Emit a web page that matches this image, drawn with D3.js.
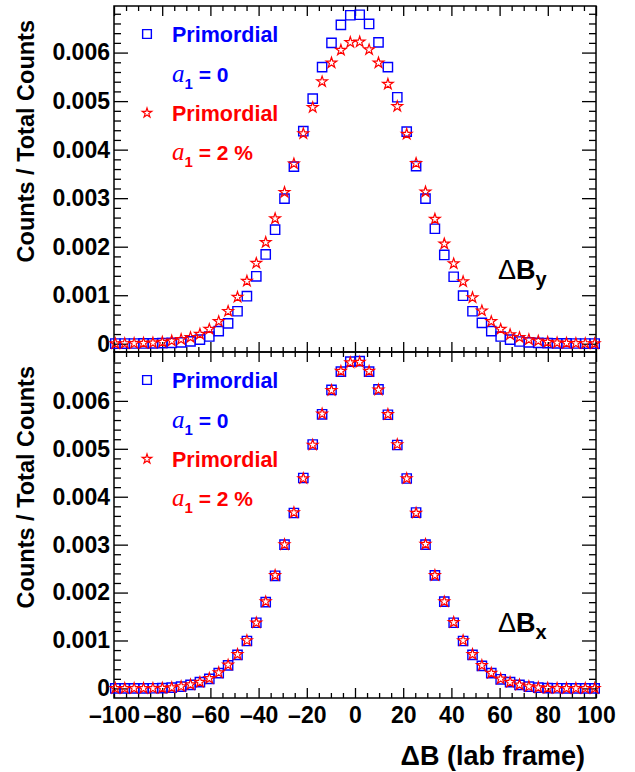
<!DOCTYPE html>
<html>
<head>
<meta charset="utf-8">
<script src="https://cdn.jsdelivr.net/npm/d3@7"></script>
<style>
  body { margin: 0; background: #fff; }
  svg { display: block; }
</style>
</head>
<body>
<svg id="chart" width="635" height="772"></svg>
<script>
// Bin centres of the ΔB histograms (52 bins)
const binCenters = [
  -99.45, -95.55, -91.65, -87.75, -83.85, -79.95, -76.05, -72.15, -68.25, -64.35, -60.45, -56.55, -52.65,
  -48.75, -44.85, -40.95, -37.05, -33.15, -29.25, -25.35, -21.45, -17.55, -13.65, -9.75, -5.85, -1.95,
  1.95, 5.85, 9.75, 13.65, 17.55, 21.45, 25.35, 29.25, 33.15, 37.05, 40.95, 44.85, 48.75,
  52.65, 56.55, 60.45, 64.35, 68.25, 72.15, 76.05, 79.95, 83.85, 87.75, 91.65, 95.55, 99.45
];

// ΔB_y, primordial, a1 = 0
const dBy_a0 = [
  0.004e-3, 0.004e-3, 0.005e-3, 0.006e-3, 0.008e-3, 0.012e-3, 0.018e-3, 0.028e-3, 0.048e-3, 0.085e-3, 0.15e-3, 0.26e-3, 0.42e-3,
  0.67e-3, 0.98e-3, 1.39e-3, 1.84e-3, 2.35e-3, 2.99e-3, 3.65e-3, 4.38e-3, 5.05e-3, 5.70e-3, 6.20e-3, 6.57e-3, 6.77e-3,
  6.78e-3, 6.59e-3, 6.21e-3, 5.70e-3, 5.08e-3, 4.37e-3, 3.66e-3, 2.99e-3, 2.37e-3, 1.83e-3, 1.38e-3, 0.99e-3, 0.67e-3,
  0.43e-3, 0.26e-3, 0.15e-3, 0.085e-3, 0.046e-3, 0.028e-3, 0.018e-3, 0.012e-3, 0.008e-3, 0.006e-3, 0.005e-3, 0.004e-3, 0.004e-3
];
// ΔB_y, primordial, a1 = 2 %
const dBy_a2 = [
  0.004e-3, 0.006e-3, 0.008e-3, 0.014e-3, 0.020e-3, 0.034e-3, 0.060e-3, 0.090e-3, 0.13e-3, 0.20e-3, 0.30e-3, 0.46e-3, 0.67e-3,
  0.96e-3, 1.29e-3, 1.66e-3, 2.09e-3, 2.58e-3, 3.12e-3, 3.71e-3, 4.33e-3, 4.87e-3, 5.40e-3, 5.79e-3, 6.05e-3, 6.21e-3,
  6.22e-3, 6.06e-3, 5.79e-3, 5.35e-3, 4.89e-3, 4.32e-3, 3.72e-3, 3.13e-3, 2.57e-3, 2.06e-3, 1.65e-3, 1.28e-3, 0.95e-3,
  0.68e-3, 0.46e-3, 0.30e-3, 0.19e-3, 0.13e-3, 0.085e-3, 0.058e-3, 0.035e-3, 0.020e-3, 0.014e-3, 0.008e-3, 0.006e-3, 0.004e-3
];
// ΔB_x, primordial, a1 = 0
const dBx_a0 = [
  0.001e-3, 0.001e-3, 0.001e-3, 0.002e-3, 0.003e-3, 0.006e-3, 0.017e-3, 0.038e-3, 0.075e-3, 0.13e-3, 0.20e-3, 0.32e-3, 0.48e-3,
  0.70e-3, 0.99e-3, 1.37e-3, 1.80e-3, 2.35e-3, 3.00e-3, 3.66e-3, 4.39e-3, 5.09e-3, 5.72e-3, 6.23e-3, 6.61e-3, 6.82e-3,
  6.83e-3, 6.61e-3, 6.24e-3, 5.71e-3, 5.08e-3, 4.38e-3, 3.67e-3, 3.00e-3, 2.36e-3, 1.81e-3, 1.37e-3, 0.99e-3, 0.70e-3,
  0.47e-3, 0.32e-3, 0.19e-3, 0.13e-3, 0.073e-3, 0.038e-3, 0.017e-3, 0.006e-3, 0.003e-3, 0.002e-3, 0.001e-3, 0.001e-3, 0.001e-3
];
// ΔB_x, primordial, a1 = 2 %
const dBx_a2 = [
  0.001e-3, 0.001e-3, 0.002e-3, 0.002e-3, 0.003e-3, 0.007e-3, 0.018e-3, 0.040e-3, 0.078e-3, 0.13e-3, 0.21e-3, 0.33e-3, 0.49e-3,
  0.71e-3, 1.00e-3, 1.37e-3, 1.81e-3, 2.36e-3, 3.00e-3, 3.67e-3, 4.38e-3, 5.08e-3, 5.73e-3, 6.22e-3, 6.62e-3, 6.80e-3,
  6.81e-3, 6.62e-3, 6.23e-3, 5.72e-3, 5.09e-3, 4.38e-3, 3.66e-3, 3.01e-3, 2.36e-3, 1.81e-3, 1.38e-3, 1.00e-3, 0.71e-3,
  0.48e-3, 0.32e-3, 0.20e-3, 0.13e-3, 0.075e-3, 0.040e-3, 0.018e-3, 0.007e-3, 0.003e-3, 0.002e-3, 0.001e-3, 0.001e-3, 0.001e-3
];

// Axis ticks and labels
const xMajorTicks = [-100, -80, -60, -40, -20, 0, 20, 40, 60, 80, 100];
const xTickLabels = ["\u2013100", "\u201380", "\u201360", "\u201340", "\u201320", "0", "20", "40", "60", "80", "100"];
const yMajorTicks = [0, 0.001, 0.002, 0.003, 0.004, 0.005, 0.006];
const yTickLabels = ["0", "0.001", "0.002", "0.003", "0.004", "0.005", "0.006"];
const yTitle = "Counts / Total Counts";
const xTitle = "\u0394B (lab frame)";
const legendName = "Primordial";

const FONT = "'Liberation Sans', Arial, Helvetica, sans-serif";
const SERIF = "'Liberation Serif', 'Times New Roman', serif";
const BLUE = "#0000ff";
const RED = "#ff0000";

const svg = d3.select("#chart");

const frameL = 114, frameR = 596;
const x = d3.scaleLinear().domain([-100, 100]).range([frameL, frameR]);

const xMinorTicks = d3.range(-100, 100.1, 5).filter(v => v % 20 !== 0);

const panels = [
  { top: 6, bottom: 352, yDomain: [-0.00017, 0.00696], a0: dBy_a0, a2: dBy_a2, comp: "y", labelDy: 273, showX: false },
  { top: 352, bottom: 698, yDomain: [-0.0002, 0.00702], a0: dBx_a0, a2: dBx_a2, comp: "x", labelDy: 280, showX: true }
];

const starSize = 5.6 * 5.6 / 0.8908130915292852;
const squareSym = d3.symbol(d3.symbolSquare, 86);
const starSym = d3.symbol(d3.symbolStar, starSize);

function styleAxis(g, labelled) {
  g.select(".domain").remove();
  g.selectAll(".tick line").attr("stroke", "#000").attr("stroke-width", 1.3);
  g.attr("font-family", FONT).attr("font-size", 23).attr("font-weight", "bold");
  if (!labelled) g.selectAll(".tick text").remove();
  g.selectAll(".tick text").attr("fill", "#000");
}

function a1Label(parent, yPos, colour, rest) {
  const t = parent.append("text").attr("x", 172).attr("y", yPos).attr("font-size", 21).attr("fill", colour);
  t.append("tspan").attr("font-family", SERIF)
    .attr("font-style", "italic").attr("font-weight", "normal").attr("font-size", 25).text("a");
  t.append("tspan").attr("font-size", 15).attr("dy", 7).text("1");
  t.append("tspan").attr("dy", -7).text(rest);
}

panels.forEach(p => {
  const y = d3.scaleLinear().domain(p.yDomain).range([p.bottom, p.top]);
  const yMinor = d3.range(0, p.yDomain[1], 0.0002).map(v => +v.toFixed(4)).filter(v => Math.round(v * 10000) % 10 !== 0);
  const g = svg.append("g");

  // y axis: left (labelled) and right (mirror)
  g.append("g").attr("transform", `translate(${frameL},0)`)
    .call(d3.axisLeft(y).tickValues(yMajorTicks).tickSize(-14).tickPadding(4)
      .tickFormat((d, i) => yTickLabels[i]))
    .call(gg => styleAxis(gg, true));
  g.append("g").attr("transform", `translate(${frameL},0)`)
    .call(d3.axisLeft(y).tickValues(yMinor).tickSize(-7).tickFormat(""))
    .call(gg => styleAxis(gg, false));
  g.append("g").attr("transform", `translate(${frameR},0)`)
    .call(d3.axisRight(y).tickValues(yMajorTicks).tickSize(-14).tickFormat(""))
    .call(gg => styleAxis(gg, false));
  g.append("g").attr("transform", `translate(${frameR},0)`)
    .call(d3.axisRight(y).tickValues(yMinor).tickSize(-7).tickFormat(""))
    .call(gg => styleAxis(gg, false));

  // x axis: bottom and top
  g.append("g").attr("transform", `translate(0,${p.bottom})`)
    .call(d3.axisBottom(x).tickValues(xMajorTicks).tickSize(-10).tickPadding(9)
      .tickFormat((d, i) => xTickLabels[i]))
    .call(gg => styleAxis(gg, p.showX));
  g.append("g").attr("transform", `translate(0,${p.bottom})`)
    .call(d3.axisBottom(x).tickValues(xMinorTicks).tickSize(-5).tickFormat(""))
    .call(gg => styleAxis(gg, false));
  g.append("g").attr("transform", `translate(0,${p.top})`)
    .call(d3.axisTop(x).tickValues(xMajorTicks).tickSize(-10).tickFormat(""))
    .call(gg => styleAxis(gg, false));
  g.append("g").attr("transform", `translate(0,${p.top})`)
    .call(d3.axisTop(x).tickValues(xMinorTicks).tickSize(-5).tickFormat(""))
    .call(gg => styleAxis(gg, false));

  // frame
  g.append("rect")
    .attr("x", frameL).attr("y", p.top)
    .attr("width", frameR - frameL).attr("height", p.bottom - p.top)
    .attr("fill", "none").attr("stroke", "#000").attr("stroke-width", 1.5);

  // y title
  g.append("text")
    .attr("transform", `translate(34,${p.top + 14}) rotate(-90)`)
    .attr("text-anchor", "end")
    .attr("font-family", FONT).attr("font-size", 23.5).attr("font-weight", "bold")
    .text(yTitle);

  // markers: open squares (a1 = 0), then open stars (a1 = 2 %)
  g.append("g").selectAll("path").data(binCenters)
    .join("path")
    .attr("transform", (d, i) => `translate(${x(d)},${y(p.a0[i])})`)
    .attr("d", squareSym)
    .attr("fill", "none").attr("stroke", BLUE).attr("stroke-width", 1.4);
  g.append("g").selectAll("path").data(binCenters)
    .join("path")
    .attr("transform", (d, i) => `translate(${x(d)},${y(p.a2[i])})`)
    .attr("d", starSym)
    .attr("fill", "none").attr("stroke", RED).attr("stroke-width", 1.2);

  // legend
  const lg = g.append("g").attr("transform", `translate(0,${p.top})`)
    .attr("font-family", FONT).attr("font-weight", "bold");
  lg.append("path").attr("transform", "translate(147,28)").attr("d", d3.symbol(d3.symbolSquare, 76))
    .attr("fill", "none").attr("stroke", BLUE).attr("stroke-width", 1.4);
  lg.append("text").attr("x", 172).attr("y", 36).attr("font-size", 21.5).attr("fill", BLUE).text(legendName);
  a1Label(lg, 76, BLUE, " = 0");
  lg.append("path").attr("transform", "translate(147,107)").attr("d", d3.symbol(d3.symbolStar, 5 * 5 / 0.8908130915292852))
    .attr("fill", "none").attr("stroke", RED).attr("stroke-width", 1.2);
  lg.append("text").attr("x", 172).attr("y", 114.5).attr("font-size", 21.5).attr("fill", RED).text(legendName);
  a1Label(lg, 153.5, RED, " = 2 %");

  // component label ΔB_x / ΔB_y
  const cl = g.append("text").attr("x", 498).attr("y", p.top + p.labelDy)
    .attr("font-family", FONT).attr("font-size", 27).attr("font-weight", "bold");
  cl.append("tspan").attr("font-weight", "normal").text("\u0394");
  cl.append("tspan").text("B");
  cl.append("tspan").attr("font-size", 20).attr("dy", 7).text(p.comp);
});

// x title
svg.append("text")
  .attr("x", 585).attr("y", 765)
  .attr("text-anchor", "end")
  .attr("font-family", FONT).attr("font-size", 27).attr("font-weight", "bold")
  .text(xTitle);
</script>
</body>
</html>
